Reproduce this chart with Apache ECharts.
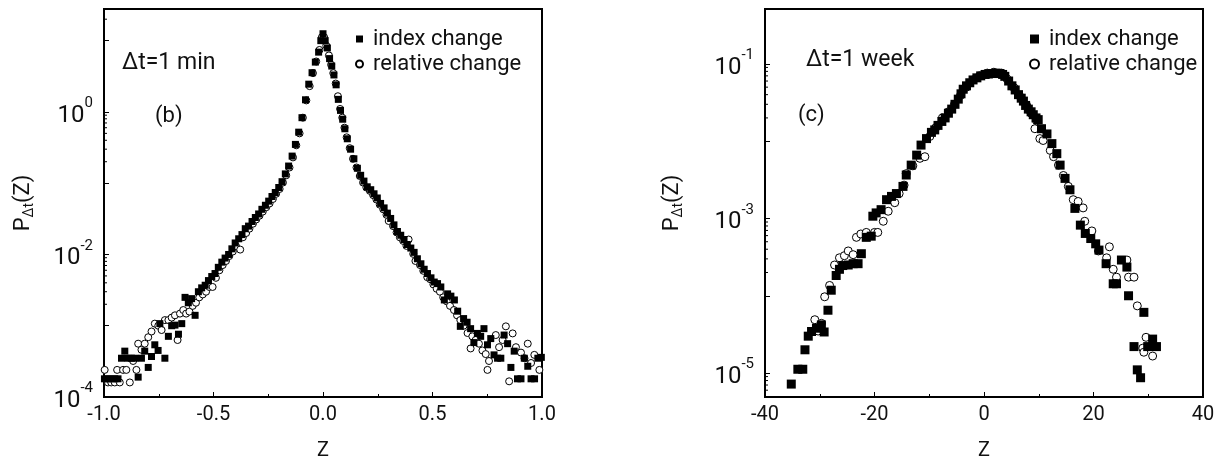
<!DOCTYPE html>
<html>
<head>
<meta charset="utf-8">
<script src="https://cdn.jsdelivr.net/npm/echarts@6/dist/echarts.min.js"></script>
<style>
  html, body { margin: 0; padding: 0; background: #ffffff; }
  #chart { width: 1228px; height: 466px; }
</style>
</head>
<body>
<div id="chart"></div>
<script>
// Probability density of normalised index changes Z, [Z, P(Z)] pairs.
// Panel (b): sampling interval of 1 minute.
const minIndex = [
  [-0.998,1.8e-4],[-0.982,1.8e-4],[-0.967,1.8e-4],[-0.951,1.8e-4],[-0.936,1.8e-4],[-0.920,3.5e-4],
  [-0.905,4.4e-4],[-0.890,3.5e-4],[-0.875,3.5e-4],[-0.859,3.5e-4],[-0.844,1.9e-4],[-0.829,3.5e-4],
  [-0.814,4.4e-4],[-0.798,2.6e-4],[-0.783,3.7e-4],[-0.768,5.4e-4],[-0.753,4.5e-4],[-0.745,1.07e-3],
  [-0.722,3.5e-4],[-0.706,7.1e-4],[-0.691,1.0e-3],[-0.676,1.02e-3],[-0.660,7.6e-4],[-0.645,1.07e-3],
  [-0.630,2.5e-3],[-0.615,2.1e-3],[-0.600,2.4e-3],[-0.584,1.4e-3],[-0.569,3.0e-3],[-0.554,3.4e-3],
  [-0.538,3.7e-3],[-0.523,4.3e-3],[-0.508,4.9e-3],[-0.493,5.4e-3],[-0.478,6.6e-3],[-0.462,7.8e-3],
  [-0.447,8.9e-3],[-0.431,1.0e-2],[-0.416,1.2e-2],[-0.401,1.45e-2],[-0.385,1.66e-2],[-0.370,1.9e-2],
  [-0.355,2.3e-2],[-0.340,2.5e-2],[-0.324,2.9e-2],[-0.309,3.3e-2],[-0.294,3.7e-2],[-0.279,4.3e-2],
  [-0.263,4.9e-2],[-0.248,5.6e-2],[-0.233,6.5e-2],[-0.218,7.4e-2],[-0.202,8.7e-2],[-0.187,0.105],
  [-0.172,0.135],[-0.157,0.174],[-0.141,0.24],[-0.126,0.35],[-0.111,0.52],[-0.096,0.83],
  [-0.080,1.48],[-0.065,2.45],[-0.050,3.55],[-0.035,5.0],[-0.020,6.9],[-0.010,10],[0,12.5],
  [0.010,10],[0.020,7.9],[0.030,5.6],[0.040,4.4],[0.050,3.3],[0.060,2.4],[0.070,1.5],[0.080,1.05],
  [0.090,0.79],[0.100,0.58],[0.111,0.42],[0.126,0.30],[0.141,0.22],[0.157,0.162],[0.172,0.129],
  [0.187,0.107],[0.202,0.089],[0.218,0.081],[0.233,0.071],[0.248,0.062],[0.263,0.052],[0.279,0.045],
  [0.294,0.038],[0.309,0.032],[0.324,0.026],[0.340,0.021],[0.355,0.0186],[0.370,0.0162],[0.385,0.0138],
  [0.401,0.0123],[0.416,0.0107],[0.431,8.7e-3],[0.447,7.4e-3],[0.462,6.2e-3],[0.477,5.4e-3],
  [0.493,4.7e-3],[0.508,4.1e-3],[0.523,3.9e-3],[0.538,3.5e-3],[0.554,2.3e-3],[0.569,2.8e-3],
  [0.584,2.6e-3],[0.600,2.3e-3],[0.615,1.6e-3],[0.627,9.8e-4],[0.642,1.26e-3],[0.658,1.12e-3],
  [0.674,9.1e-4],[0.689,5.8e-4],[0.705,7.8e-4],[0.720,7.1e-4],[0.735,9.1e-4],[0.751,5.4e-4],
  [0.766,6.6e-4],[0.781,3.9e-4],[0.797,3.5e-4],[0.812,3.5e-4],[0.827,7.4e-4],[0.843,5.6e-4],
  [0.858,2.6e-4],[0.873,4.4e-4],[0.888,1.8e-4],[0.904,1.8e-4],[0.919,3.5e-4],[0.935,2.7e-4],
  [0.950,1.8e-4],[0.966,1.8e-4],[0.981,3.5e-4],[0.997,3.6e-4]
];
const minRelative = [
  [-0.997,2.4e-4],[-0.982,1.6e-4],[-0.967,1.6e-4],[-0.951,1.6e-4],[-0.940,2.4e-4],[-0.928,1.6e-4],
  [-0.913,2.4e-4],[-0.898,2.4e-4],[-0.882,1.6e-4],[-0.867,3.2e-4],[-0.852,2.4e-4],[-0.844,5.6e-4],
  [-0.829,4.6e-4],[-0.814,5.6e-4],[-0.798,6.9e-4],[-0.783,8.3e-4],[-0.768,1.07e-3],[-0.752,1.0e-3],
  [-0.737,8.7e-4],[-0.722,1.2e-3],[-0.706,1.2e-3],[-0.691,1.3e-3],[-0.676,1.4e-3],[-0.664,6.3e-4],
  [-0.653,1.48e-3],[-0.638,1.66e-3],[-0.625,1.48e-3],[-0.610,1.58e-3],[-0.595,1.9e-3],[-0.580,2.1e-3],
  [-0.565,2.5e-3],[-0.549,2.75e-3],[-0.534,3.0e-3],[-0.519,3.5e-3],[-0.504,3.5e-3],[-0.489,4.7e-3],
  [-0.473,6.0e-3],[-0.458,7.1e-3],[-0.443,8.1e-3],[-0.428,9.5e-3],[-0.412,1.1e-2],[-0.397,1.3e-2],
  [-0.378,1.17e-2],[-0.366,1.74e-2],[-0.351,2.0e-2],[-0.336,2.3e-2],[-0.320,2.7e-2],[-0.305,3.1e-2],
  [-0.290,3.5e-2],[-0.275,4.0e-2],[-0.259,4.6e-2],[-0.244,5.2e-2],[-0.229,6.0e-2],[-0.214,7.1e-2],
  [-0.198,8.3e-2],[-0.183,0.102],[-0.168,0.129],[-0.153,0.166],[-0.137,0.23],[-0.122,0.34],
  [-0.107,0.50],[-0.092,0.83],[-0.076,1.45],[-0.061,2.3],[-0.046,3.5],[-0.031,5.1],[-0.016,7.4],
  [-0.005,11.2],[0.005,11.2],[0.015,8.5],[0.027,6.2],[0.037,4.6],[0.047,3.5],[0.058,2.5],[0.068,1.66],
  [0.078,1.1],[0.088,0.83],[0.098,0.60],[0.108,0.44],[0.122,0.31],[0.137,0.22],[0.153,0.166],
  [0.168,0.126],[0.183,0.102],[0.198,0.087],[0.214,0.078],[0.229,0.068],[0.244,0.059],[0.259,0.050],
  [0.275,0.043],[0.290,0.036],[0.300,0.0295],[0.320,0.025],[0.336,0.0204],[0.351,0.0174],
  [0.366,0.0155],[0.381,0.0132],[0.391,0.0162],[0.412,0.0102],[0.422,8.1e-3],[0.443,7.1e-3],
  [0.458,5.9e-3],[0.476,4.8e-3],[0.489,4.5e-3],[0.504,3.8e-3],[0.519,3.3e-3],[0.534,3.0e-3],
  [0.549,2.5e-3],[0.565,2.2e-3],[0.580,1.9e-3],[0.598,1.66e-3],[0.612,1.4e-3],[0.627,1.2e-3],
  [0.642,1.0e-3],[0.660,7.9e-4],[0.674,4.8e-4],[0.682,7.1e-4],[0.697,6.3e-4],[0.712,5.6e-4],
  [0.728,4.5e-4],[0.743,4.0e-4],[0.751,2.4e-4],[0.758,3.2e-4],[0.789,7.4e-4],[0.804,5.0e-4],
  [0.820,6.3e-4],[0.835,9.8e-4],[0.850,1.66e-4],[0.866,7.8e-4],[0.881,5.0e-4],[0.904,4.2e-4],
  [0.920,3.5e-4],[0.935,5.6e-4],[0.950,3.0e-4],[0.965,3.9e-4],[0.988,2.4e-4]
];
// Panel (c): sampling interval of 1 week.
const weekIndex = [
  [-35.2,7.2e-6],[-34.0,1.12e-5],[-33.1,1.12e-5],[-32.7,2.0e-5],[-32.1,3.0e-5],[-31.5,3.45e-5],
  [-30.6,3.8e-5],[-29.7,4.2e-5],[-29.2,3.4e-5],[-28.5,6.5e-5],[-27.9,1.18e-4],[-27.0,1.83e-4],
  [-26.4,2.2e-4],[-25.8,2.46e-4],[-24.8,2.5e-4],[-23.9,2.6e-4],[-23.0,2.6e-4],[-22.4,3.5e-4],
  [-21.5,5.7e-4],[-20.6,5.9e-4],[-20.3,1.07e-3],[-19.7,1.18e-3],[-18.8,1.3e-3],[-17.8,1.75e-3],
  [-16.9,1.93e-3],[-16.0,2.1e-3],[-14.8,2.6e-3],[-14.2,3.65e-3],[-13.3,4.9e-3],[-12.3,6.6e-3],
  [-11.5,8.9e-3],[-10.5,1.08e-2],[-9.6,1.3e-2],[-9.0,1.4e-2],[-8.4,1.6e-2],[-7.7,1.8e-2],
  [-7.1,2.0e-2],[-6.5,2.3e-2],[-5.9,2.6e-2],[-5.3,3.0e-2],[-4.7,3.5e-2],[-4.2,4.1e-2],[-3.8,4.7e-2],
  [-3.2,5.2e-2],[-2.6,5.7e-2],[-2.0,6.2e-2],[-1.3,6.6e-2],[-0.6,7.0e-2],[0.2,7.3e-2],[0.8,7.4e-2],
  [1.4,7.5e-2],[2.2,7.6e-2],[2.9,7.5e-2],[3.4,7.3e-2],[3.8,6.9e-2],[4.5,6.0e-2],[5.1,5.2e-2],
  [5.7,4.6e-2],[6.3,4.0e-2],[6.8,3.6e-2],[7.2,3.3e-2],[7.6,2.9e-2],[8.1,2.6e-2],[8.6,2.4e-2],
  [9.0,2.2e-2],[9.5,2.0e-2],[9.9,1.9e-2],[10.5,1.45e-2],[11.5,1.24e-2],[12.4,9.3e-3],[13.3,6.9e-3],
  [13.9,4.9e-3],[14.8,3.3e-3],[15.7,2.35e-3],[16.6,1.35e-3],[17.6,8.2e-4],[18.5,6.4e-4],
  [19.5,5.5e-4],[20.4,4.7e-4],[21.0,3.9e-4],[22.3,2.6e-4],[23.6,1.43e-4],[24.2,1.43e-4],
  [25.1,2.9e-4],[26.1,2.35e-4],[26.4,1.0e-4],[27.4,2.2e-5],[28.0,1.1e-5],[28.6,8.7e-6],
  [29.2,6.1e-5],[29.9,2.2e-5],[30.8,2.75e-5],[31.5,2.2e-5]
];
const weekRelative = [
  [-30.9,4.9e-5],[-30.3,3.5e-5],[-29.7,4.4e-5],[-29.1,9.7e-5],[-28.2,1.36e-4],[-27.3,2.5e-4],
  [-26.4,3.1e-4],[-25.5,3.3e-4],[-24.8,3.8e-4],[-23.9,3.4e-4],[-23.3,5.7e-4],[-22.5,6.3e-4],
  [-21.5,6.6e-4],[-20.0,6.6e-4],[-19.4,6.6e-4],[-18.4,9.2e-4],[-17.5,1.24e-3],[-16.3,1.6e-3],
  [-15.5,2.1e-3],[-14.6,2.7e-3],[-14.2,3.8e-3],[-13.0,4.8e-3],[-11.7,6.0e-3],[-10.8,6.3e-3],
  [-9.9,1.15e-2],[-8.8,1.5e-2],[-7.6,2.0e-2],[-6.5,2.4e-2],[-5.4,3.0e-2],[-4.3,3.9e-2],
  [-3.2,5.0e-2],[-2.0,6.2e-2],[-0.8,7.0e-2],[0.6,7.6e-2],[1.8,7.8e-2],[3.2,7.6e-2],[4.2,6.4e-2],
  [5.5,4.9e-2],[6.7,3.7e-2],[7.8,2.9e-2],[8.6,2.3e-2],[9.3,1.45e-2],[9.6,1.84e-2],[10.2,1.08e-2],
  [10.8,1.02e-2],[12.1,7.6e-3],[12.7,6.3e-3],[13.6,4.9e-3],[14.5,3.6e-3],[15.4,2.6e-3],
  [16.3,1.75e-3],[17.2,1.66e-3],[18.1,1.37e-3],[18.4,9.2e-4],[19.7,6.9e-4],[20.9,3.8e-4],
  [22.4,3.1e-4],[22.9,4.3e-4],[23.6,2.2e-4],[24.2,1.74e-4],[26.1,2.9e-4],[26.4,1.74e-4],
  [27.4,1.74e-4],[28.0,7.4e-5],[29.0,2.1e-5],[29.2,1.86e-5],[29.6,2.9e-5],[30.8,1.66e-5]
];

// Axis ranges and tick settings for the two panels.
const minZRange = [-1, 1];
const weekZRange = [-40, 40];
const minPRange = [1e-4, 27.8];
const weekPRange = [4.9e-6, 0.513];
// Small log ticks, drawn in the decade just below each labelled power.
const minMinorTicks = [20, 0.9, 0.8, 0.7, 0.6, 0.5, 0.4, 0.3, 0.2,
  0.009, 0.008, 0.007, 0.006, 0.005, 0.004, 0.003, 0.002];
const weekMinorTicks = [0.09, 0.08, 0.07, 0.06, 0.05, 0.04, 0.03, 0.02,
  9e-4, 8e-4, 7e-4, 6e-4, 5e-4, 4e-4, 3e-4, 2e-4, 9e-6, 8e-6, 7e-6, 6e-6];

const SERIES_INDEX = 'index change';
const SERIES_RELATIVE = 'relative change';
const FONT = 'Roboto, "Liberation Sans", Arial, sans-serif';
const INK = '#111111';

const chart = echarts.init(document.getElementById('chart'), null, { renderer: 'canvas' });

function powerLabel(showOdd) {
  return function (v) {
    const e = Math.log10(v);
    const r = Math.round(e);
    if (Math.abs(e - r) > 1e-6) return '';
    if ((Math.abs(r) % 2 === 1) !== showOdd) return '';
    return '{b|10}{s|' + r + '}';
  };
}
const powerRich = {
  b: { fontFamily: FONT, fontSize: 24, color: INK, padding: [8, 0, 0, 0], verticalAlign: 'bottom' },
  s: { fontFamily: FONT, fontSize: 15, color: INK, verticalAlign: 'top' }
};
const nameRich = {
  p: { fontFamily: FONT, fontSize: 22, color: INK, verticalAlign: 'top' },
  s: { fontFamily: FONT, fontSize: 14, color: INK, padding: [10, 0, 0, 0], verticalAlign: 'bottom' }
};

function xAxisFor(idx, range, interval, digits) {
  return {
    type: 'value', gridIndex: idx, min: range[0], max: range[1], interval: interval,
    axisLine: { onZero: false, lineStyle: { color: '#000', width: 2 } },
    axisTick: { inside: true, length: 5, lineStyle: { color: '#000', width: 1 } },
    minorTick: { show: true, splitNumber: 2, length: 3, lineStyle: { color: '#000', width: 1 } },
    splitLine: { show: false },
    axisLabel: {
      margin: 8, fontFamily: FONT, fontSize: 20, color: INK,
      formatter: function (v) { return v.toFixed(digits); }
    },
    name: 'Z', nameLocation: 'middle', nameGap: 44,
    nameTextStyle: { fontFamily: FONT, fontSize: 20, color: INK }
  };
}
function yAxisFor(idx, range, showOdd, gap) {
  return {
    type: 'log', logBase: 10, gridIndex: idx, min: range[0], max: range[1],
    axisLine: { onZero: false, lineStyle: { color: '#000', width: 2 } },
    axisTick: { inside: true, length: 5, lineStyle: { color: '#000', width: 1 } },
    splitLine: { show: false },
    axisLabel: { margin: 11, formatter: powerLabel(showOdd), rich: powerRich },
    name: '{p|P}{s|Δt}{p|(Z)}', nameLocation: 'middle', nameRotate: 90, nameGap: gap,
    nameTextStyle: { rich: nameRich }
  };
}
function scatter(idx, name, data, symbol, size) {
  const isSquare = symbol === 'rect';
  return {
    type: 'scatter', name: name, xAxisIndex: idx, yAxisIndex: idx, data: data,
    symbol: symbol, symbolSize: size,
    itemStyle: isSquare
      ? { color: '#000', opacity: 1 }
      : { color: '#fff', borderColor: '#000', borderWidth: 1, opacity: 1 },
    emphasis: { disabled: true }
  };
}
function minorTicks(idx, xMin, values) {
  return {
    type: 'custom', xAxisIndex: idx, yAxisIndex: idx, silent: true,
    data: values.map(function (v) { return [xMin, v]; }),
    renderItem: function (params, api) {
      const p = api.coord([api.value(0), api.value(1)]);
      return {
        type: 'line',
        shape: { x1: p[0], y1: p[1], x2: p[0] + 3, y2: p[1] },
        style: { stroke: '#000', lineWidth: 1 }
      };
    }
  };
}
function legendFor(left, size) {
  return {
    orient: 'vertical', left: left, top: 28, padding: 0, itemGap: 3,
    itemWidth: size, itemHeight: size, selectedMode: false,
    data: [{ name: SERIES_INDEX, icon: 'rect' }, { name: SERIES_RELATIVE, icon: 'circle' }],
    textStyle: { fontFamily: FONT, fontSize: 22, color: INK, padding: [0, 0, 0, 5] }
  };
}
function note(x, y, text, size) {
  return {
    type: 'text', x: x, y: y, silent: true,
    style: { text: text, fontFamily: FONT, fontSize: size, fill: INK, verticalAlign: 'middle' }
  };
}

const option = {
  animation: false,
  backgroundColor: '#ffffff',
  grid: [
    { left: 104, top: 9, width: 438, height: 392, show: true, borderColor: '#000', borderWidth: 2 },
    { left: 765, top: 9, width: 438, height: 392, show: true, borderColor: '#000', borderWidth: 2 }
  ],
  xAxis: [xAxisFor(0, minZRange, 0.5, 1), xAxisFor(1, weekZRange, 20, 0)],
  yAxis: [yAxisFor(0, minPRange, false, 68), yAxisFor(1, weekPRange, true, 80)],
  legend: [legendFor(355, 7), legendFor(1029, 9)],
  graphic: [
    note(122, 63, 'Δt=1 min', 23),
    note(155, 116, '(b)', 22),
    note(806, 60, 'Δt=1 week', 23),
    note(798, 115, '(c)', 22)
  ],
  series: [
    minorTicks(0, minZRange[0], minMinorTicks),
    minorTicks(1, weekZRange[0], weekMinorTicks),
    scatter(0, SERIES_RELATIVE, minRelative, 'circle', 7),
    scatter(0, SERIES_INDEX, minIndex, 'rect', 7),
    scatter(1, SERIES_RELATIVE, weekRelative, 'circle', 8),
    scatter(1, SERIES_INDEX, weekIndex, 'rect', 9)
  ]
};
chart.setOption(option);
</script>
</body>
</html>
